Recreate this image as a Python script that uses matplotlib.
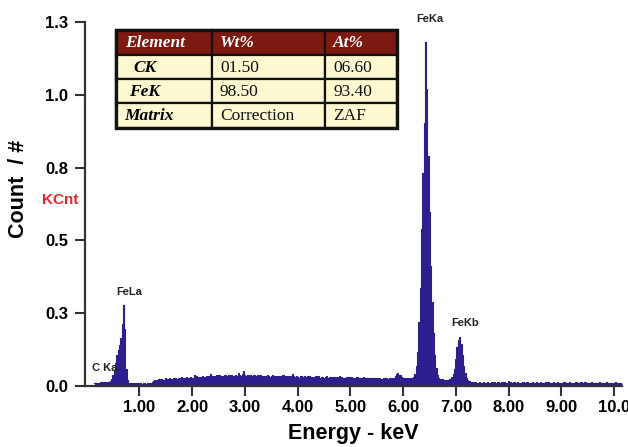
import numpy as np
import matplotlib
matplotlib.use("Agg")
import matplotlib.pyplot as plt
from matplotlib.patches import Rectangle

# ---------------- data ----------------
channel_start_keV = 0.15
channel_width_keV = 0.025
counts = [
    9, 11, 12, 11, 12, 13, 12, 14, 13, 14, 15, 16, 19, 26, 40, 56, 82, 112, 130, 146,
    172, 222, 290, 205, 62, 20, 12, 10, 11, 9, 10, 8, 9, 10, 8, 9, 8, 10, 9, 8,
    10, 9, 11, 10, 14, 19, 22, 18, 21, 24, 20, 26, 23, 21, 27, 24, 22, 28, 25, 23,
    27, 30, 26, 24, 29, 27, 31, 28, 25, 30, 33, 29, 27, 32, 30, 28, 38, 34, 31, 29,
    33, 30, 35, 32, 29, 36, 34, 31, 44, 35, 33, 37, 32, 38, 35, 40, 34, 31, 36, 39,
    35, 33, 38, 36, 41, 37, 34, 39, 36, 48, 40, 37, 42, 52, 38, 36, 40, 35, 38, 34,
    37, 41, 36, 33, 38, 35, 39, 36, 32, 37, 34, 40, 36, 33, 35, 38, 34, 31, 36, 33,
    35, 32, 36, 39, 34, 31, 35, 33, 37, 34, 42, 36, 32, 35, 33, 30, 34, 37, 32, 35,
    33, 30, 34, 36, 31, 33, 29, 32, 35, 31, 34, 30, 33, 31, 28, 32, 35, 30, 33, 29,
    31, 28, 33, 30, 32, 29, 34, 31, 28, 30, 27, 32, 29, 31, 28, 33, 30, 27, 29, 31,
    28, 30, 27, 29, 32, 28, 26, 29, 27, 30, 28, 25, 29, 27, 26, 28, 30, 26, 24, 27,
    25, 27, 24, 26, 28, 25, 27, 30, 36, 42, 45, 40, 38, 33, 29, 27, 30, 28, 26, 29,
    27, 30, 32, 42, 70, 120, 230, 350, 560, 760, 940, 1230, 1060, 820, 620, 430, 300, 190, 110, 65,
    40, 30, 24, 22, 25, 21, 23, 20, 22, 24, 26, 31, 42, 62, 95, 140, 166, 175, 150, 112,
    72, 46, 30, 22, 18, 15, 13, 14, 12, 13, 11, 12, 14, 11, 12, 13, 11, 12, 14, 11,
    12, 13, 11, 14, 12, 10, 13, 12, 11, 15, 12, 13, 11, 12, 17, 13, 11, 12, 14, 12,
    11, 13, 12, 10, 12, 14, 11, 12, 13, 11, 12, 10, 13, 12, 11, 14, 12, 11, 13, 12,
    11, 12, 14, 11, 13, 12, 10, 12, 15, 12, 11, 13, 12, 10, 12, 11, 13, 12, 11, 12,
    13, 11, 12, 10, 12, 14, 11, 12, 10, 13, 11, 12, 14, 11, 10, 12, 11, 13, 10, 12,
    11, 12, 10, 13, 11, 12, 10, 11, 13, 10, 12, 11, 10, 12, 11, 13, 10, 11, 12, 10,
    11,
]

x_ticks = [1, 2, 3, 4, 5, 6, 7, 8, 9, 10]
x_tick_labels = ["1.00", "2.00", "3.00", "4.00", "5.00", "6.00", "7.00", "8.00", "9.00", "10.0"]
y_ticks = [0.0, 0.26, 0.52, 0.78, 1.04, 1.30]
y_tick_labels = ["0.0", "0.3", "0.5", "0.8", "1.0", "1.3"]

peak_names = ["C Ka", "FeLa", "FeKa", "FeKb"]
peak_label_x = [0.35, 0.80, 6.51, 7.18]
peak_label_y = [0.064, 0.335, 1.31, 0.225]

table_header = ["Element", "Wt%", "At%"]
table_elements = ["CK", "FeK", "Matrix"]
table_wt = ["01.50", "98.50", "Correction"]
table_at = ["06.60", "93.40", "ZAF"]

# ---------------- figure ----------------
W, H = 628, 447
fig = plt.figure(figsize=(W / 100, H / 100), dpi=100)

ax_l, ax_r, ax_t, ax_b = 85, 622, 22, 386
ax = fig.add_axes([ax_l / W, 1 - ax_b / H, (ax_r - ax_l) / W, (ax_b - ax_t) / H])

energy = channel_start_keV + channel_width_keV * np.arange(len(counts))
kcnt = np.array(counts) / 1000.0
spec_color = "#2d1f8e"
ax.fill_between(energy, kcnt, 0, step="mid", color=spec_color, lw=0)
ax.step(energy, kcnt, where="mid", color=spec_color, lw=0.8)

ax.set_xlim(-0.03, 10.15)
ax.set_ylim(0, 1.3)

for s in ["top", "right"]:
    ax.spines[s].set_visible(False)
for s in ["left", "bottom"]:
    ax.spines[s].set_color("#333333")
    ax.spines[s].set_linewidth(1.6)

tick_font = dict(family="Liberation Sans", weight="bold", size=12)
ax.set_xticks(x_ticks)
ax.set_xticklabels(x_tick_labels, **tick_font)
ax.set_yticks(y_ticks)
ax.set_yticklabels(y_tick_labels, **tick_font)
ax.tick_params(axis="both", direction="out", length=7, width=1.5, color="#333333")
ax.tick_params(axis="x", pad=3)
ax.tick_params(axis="y", pad=5)

ax.set_xlabel("Energy - keV", family="Liberation Sans", weight="bold", size=15.5, labelpad=6)
fig.text(19 / W, 1 - 189 / H, "Count  / #", family="Liberation Sans", weight="bold",
         size=15.5, rotation=90, ha="center", va="center")

fig.text(60 / W, 1 - 200 / H, "KCnt", color="#e8262a", family="Liberation Sans",
         weight="bold", size=11, ha="center", va="center")

for name, px, py in zip(peak_names, peak_label_x, peak_label_y):
    ax.text(px, py, name, family="Liberation Sans", weight="bold", size=8,
            color="#222222", ha="center", va="center", clip_on=False)

# ---------------- table (overlay in pixel coordinates) ----------------
ov = fig.add_axes([0, 0, 1, 1])
ov.set_xlim(0, W)
ov.set_ylim(H, 0)
ov.axis("off")

col_x = [116, 212, 325, 397]
row_y = [30, 55, 79, 103, 128]
header_color = "#7c1a12"
cell_color = "#fcf9d2"
rows = [table_header] + [list(r) for r in zip(table_elements, table_wt, table_at)]
first_col_pad = [9, 17, 13, 8]
for r in range(4):
    for c in range(3):
        x0, x1 = col_x[c], col_x[c + 1]
        y0, y1 = row_y[r], row_y[r + 1]
        fc = header_color if r == 0 else cell_color
        ov.add_patch(Rectangle((x0, y0), x1 - x0, y1 - y0, facecolor=fc,
                               edgecolor="#111111", lw=1.6))
        txt = rows[r][c]
        if r == 0:
            style = dict(color="white", weight="bold", style="italic")
        elif c == 0:
            style = dict(color="black", weight="bold", style="italic")
        else:
            style = dict(color="#111111", weight="normal", style="normal")
        pad = first_col_pad[r] if c == 0 else 8
        ov.text(x0 + pad, (y0 + y1) / 2 + 0.5, txt, family="Liberation Serif",
                size=12.5, ha="left", va="center", **style)
# thicker outer frame
ov.add_patch(Rectangle((col_x[0], row_y[0]), col_x[-1] - col_x[0], row_y[-1] - row_y[0],
                       fill=False, edgecolor="#111111", lw=2.4))

fig.savefig("out.png", dpi=100)
